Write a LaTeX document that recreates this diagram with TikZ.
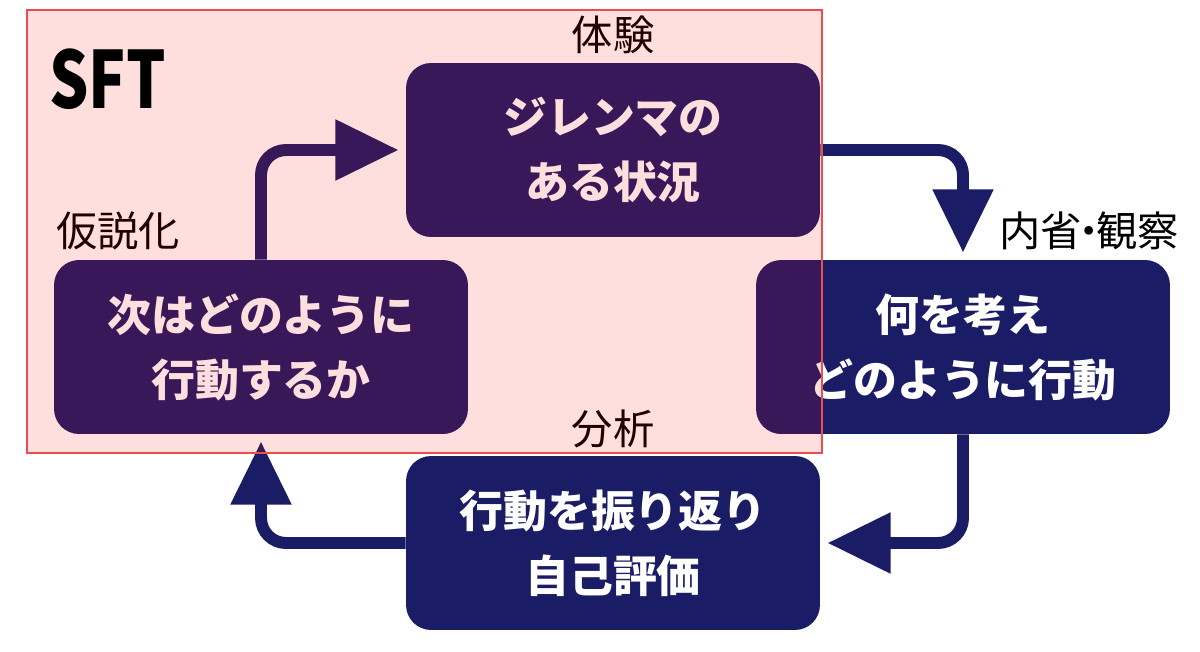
\documentclass[tikz,border=0pt]{standalone}
\usepackage{fontspec}
\setmainfont{Noto Sans CJK JP}
\usepackage{tikz}
\usetikzlibrary{arrows.meta,positioning,calc}

\definecolor{navy}{RGB}{27,28,102}
\definecolor{frame}{RGB}{232,80,79}

\begin{document}
\begin{tikzpicture}[x=0.02cm, y=-0.02cm,
    box/.style = {fill=navy, rounded corners=0.5cm, minimum width=8.28cm,
                  minimum height=3.48cm, text=white, align=center,
                  font=\bfseries\fontsize{25}{37}\selectfont},
    tag/.style = {font=\fontsize{23.5}{24}\selectfont, text=black},
    flow/.style = {draw=navy, line width=6.8pt, rounded corners=0.5cm,
                   -{Triangle[length=36pt,width=33pt]}, shorten >=4pt}]
  \useasboundingbox (0,0) rectangle (1200,652);

          \node[box] at ( 613, 150)  (exp)  {ジレンマの\\ある状況};
          \node[box] at ( 963, 347)  (refl) {何を考え\\どのように行動};
          \node[box] at ( 613, 543)  (anal) {行動を振り返り\\自己評価};
          \node[box] at ( 261, 347)  (hyp)  {次はどのように\\行動するか};

          \node[tag] at ( 613,  35)  (lexp)  {体験};
          \node[tag] at (1089, 231)  (lrefl) {内省\hspace{-0.32em}・\hspace{-0.32em}観察};
          \node[tag] at ( 613, 429)  (lanal) {分析};
          \node[tag] at ( 118, 231)  (lhyp)  {仮説化};

          \draw[flow] (exp.east)   -| (refl.north);
          \draw[flow] (refl.south) |- (anal.east);
          \draw[flow] (anal.west)  -| (hyp.south);
          \draw[flow] (hyp.north)  |- (exp.west);

          \fill[red, opacity=0.13] (27,10) rectangle (822,453);
          \draw[frame, line width=1.2pt] (27,10) rectangle (822,453);
          \node[anchor=west] at (43, 79) (sft)
            {\scalebox{0.8}[1.02]{\bfseries\fontsize{44}{44}\selectfont SFT}};
        \end{tikzpicture}
\end{document}
